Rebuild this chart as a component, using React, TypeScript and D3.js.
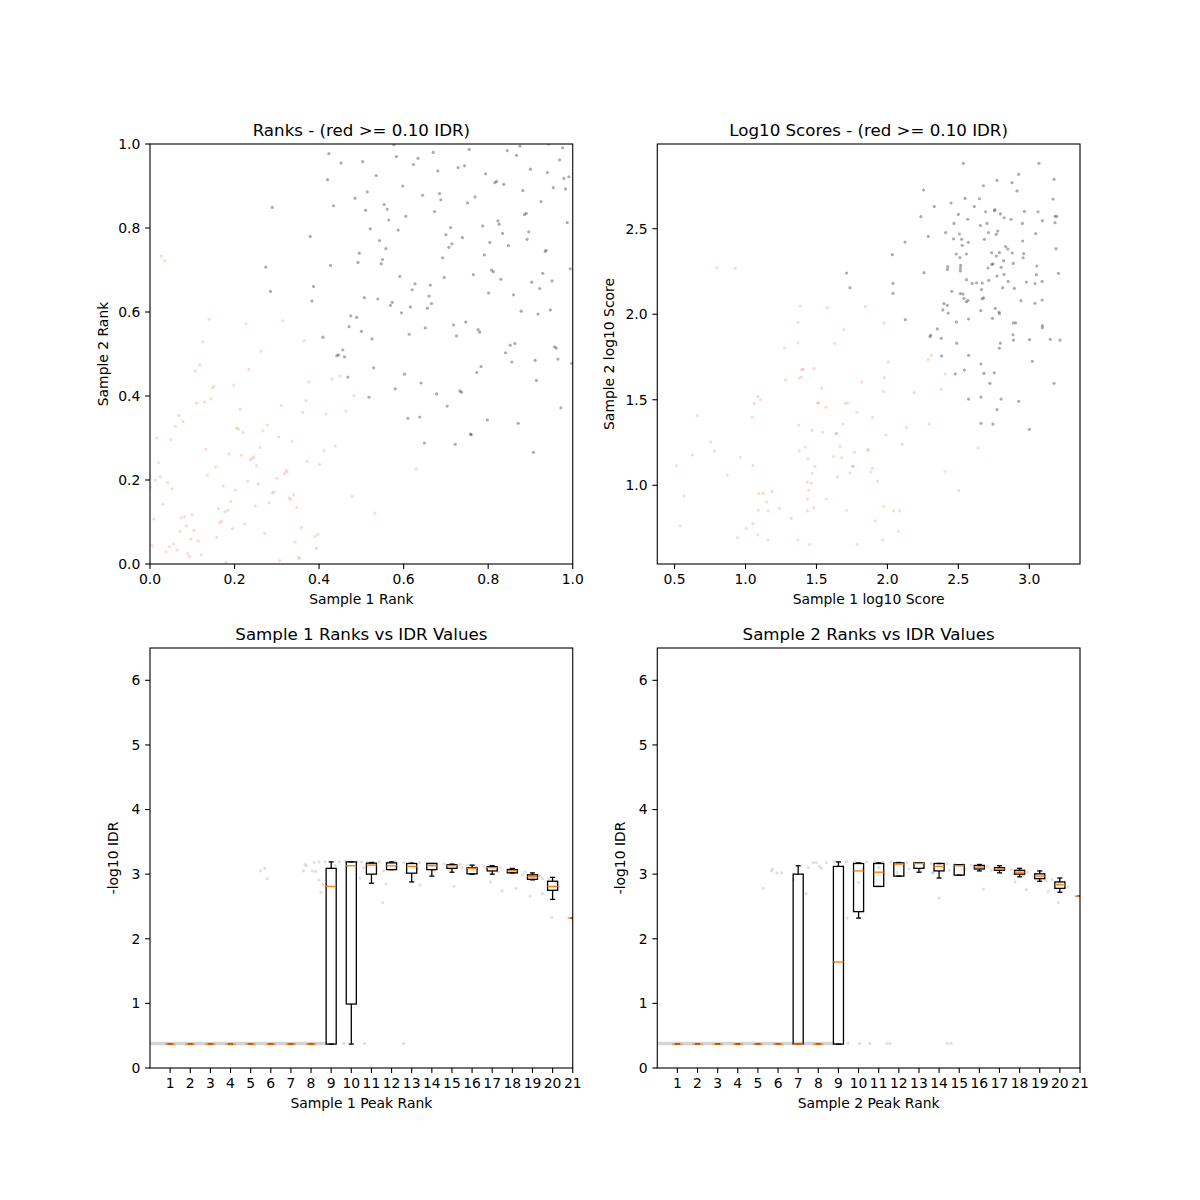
import React from 'react';
import * as d3 from 'd3';

type Pt = [number, number];
// box stats: [lower whisker, q1, median, q3, upper whisker]
type Box = [number, number, number, number, number];

const FONT = '"DejaVu Sans", sans-serif';
const PW = 422.73;
const PH = 420;
const COLS = [150, 657.27];
const ROWS = [144, 648];

// ---- panel 1: ranks ----
const rankGray: Pt[] = [
  [0.423, 0.977], [0.452, 0.955], [0.503, 0.958], [0.577, 0.998], [0.583, 0.97], [0.623, 0.951], [0.634, 0.966],
  [0.67, 0.98], [0.681, 0.936], [0.729, 0.944], [0.744, 0.948], [0.755, 0.987], [0.845, 0.984], [0.867, 0.973],
  [0.875, 0.995], [0.943, 1.0], [0.976, 0.991], [0.969, 0.962], [0.991, 0.922], [0.979, 0.918], [0.983, 0.893],
  [0.9, 0.94], [0.94, 0.932], [0.954, 0.896], [0.882, 0.889], [0.794, 0.929], [0.816, 0.908], [0.82, 0.911],
  [0.837, 0.904], [0.42, 0.915], [0.434, 0.853], [0.485, 0.871], [0.514, 0.886], [0.535, 0.925], [0.51, 0.842],
  [0.554, 0.856], [0.561, 0.845], [0.521, 0.798], [0.565, 0.819], [0.598, 0.9], [0.605, 0.828], [0.645, 0.878],
  [0.685, 0.882], [0.688, 0.867], [0.673, 0.839], [0.587, 0.795], [0.543, 0.77], [0.558, 0.751], [0.55, 0.725],
  [0.547, 0.715], [0.495, 0.74], [0.492, 0.718], [0.427, 0.711], [0.379, 0.78], [0.289, 0.849], [0.274, 0.707],
  [0.285, 0.649], [0.387, 0.661], [0.383, 0.626], [0.7, 0.784], [0.711, 0.801], [0.714, 0.762], [0.707, 0.754],
  [0.739, 0.777], [0.751, 0.86], [0.769, 0.874], [0.692, 0.729], [0.696, 0.682], [0.591, 0.685], [0.787, 0.805],
  [0.804, 0.766], [0.823, 0.817], [0.826, 0.809], [0.834, 0.787], [0.848, 0.758], [0.791, 0.736], [0.808, 0.7],
  [0.812, 0.696], [0.801, 0.645], [0.83, 0.678], [0.765, 0.689], [0.86, 0.641], [0.886, 0.832], [0.89, 0.835],
  [0.896, 0.791], [0.892, 0.773], [0.925, 0.863], [0.987, 0.813], [0.935, 0.744], [0.937, 0.747], [0.929, 0.692],
  [0.994, 0.703], [0.903, 0.671], [0.922, 0.656], [0.951, 0.674], [0.878, 0.602], [0.918, 0.595], [0.947, 0.605],
  [0.507, 0.634], [0.539, 0.631], [0.569, 0.616], [0.573, 0.623], [0.595, 0.598], [0.616, 0.612], [0.62, 0.653],
  [0.627, 0.667], [0.663, 0.664], [0.66, 0.638], [0.666, 0.62], [0.656, 0.609], [0.475, 0.591], [0.489, 0.587],
  [0.471, 0.565], [0.5, 0.554], [0.409, 0.54], [0.446, 0.498], [0.442, 0.496], [0.456, 0.51], [0.46, 0.493],
  [0.468, 0.445], [0.525, 0.536], [0.529, 0.467], [0.518, 0.397], [0.58, 0.417], [0.613, 0.547], [0.651, 0.562],
  [0.718, 0.569], [0.725, 0.543], [0.747, 0.576], [0.776, 0.558], [0.78, 0.552], [0.602, 0.452], [0.641, 0.431],
  [0.678, 0.405], [0.703, 0.376], [0.733, 0.412], [0.737, 0.409], [0.773, 0.456], [0.783, 0.47], [0.841, 0.503],
  [0.852, 0.521], [0.863, 0.525], [0.856, 0.481], [0.911, 0.485], [0.914, 0.437], [0.957, 0.517], [0.961, 0.514],
  [0.965, 0.488], [0.997, 0.478], [0.972, 0.372], [0.61, 0.347], [0.638, 0.35], [0.649, 0.288], [0.722, 0.285],
  [0.758, 0.309], [0.76, 0.308], [0.798, 0.343], [0.871, 0.335], [0.907, 0.266],
];

const rankRed: Pt[] = [
  [0.027, 0.733], [0.035, 0.722], [0.001, 0.183], [0.005, 0.044], [0.009, 0.107], [0.013, 0.2], [0.016, 0.3],
  [0.02, 0.241], [0.024, 0.208], [0.03, 0.142], [0.038, 0.029], [0.042, 0.194], [0.046, 0.041], [0.049, 0.296],
  [0.052, 0.179], [0.056, 0.048], [0.06, 0.328], [0.064, 0.033], [0.068, 0.354], [0.071, 0.077], [0.074, 0.11],
  [0.078, 0.339], [0.082, 0.113], [0.086, 0.091], [0.089, 0.025], [0.093, 0.018], [0.096, 0.059], [0.099, 0.117],
  [0.104, 0.08], [0.107, 0.459], [0.11, 0.383], [0.114, 0.055], [0.118, 0.474], [0.122, 0.022], [0.125, 0.529],
  [0.129, 0.386], [0.132, 0.273], [0.136, 0.211], [0.14, 0.583], [0.144, 0.393], [0.147, 0.419], [0.151, 0.423],
  [0.155, 0.231], [0.158, 0.063], [0.162, 0.132], [0.165, 0.098], [0.169, 0.102], [0.173, 0.186], [0.177, 0.124],
  [0.18, 0.004], [0.184, 0.128], [0.187, 0.262], [0.191, 0.149], [0.195, 0.084], [0.198, 0.426], [0.202, 0.176],
  [0.205, 0.324], [0.209, 0.321], [0.213, 0.368], [0.216, 0.259], [0.22, 0.313], [0.224, 0.095], [0.227, 0.572],
  [0.231, 0.197], [0.234, 0.463], [0.238, 0.248], [0.242, 0.252], [0.246, 0.255], [0.249, 0.138], [0.252, 0.234],
  [0.256, 0.19], [0.26, 0.277], [0.263, 0.507], [0.267, 0.317], [0.271, 0.073], [0.278, 0.331], [0.282, 0.146],
  [0.29, 0.169], [0.293, 0.172], [0.3, 0.204], [0.304, 0.303], [0.307, 0.008], [0.311, 0.378], [0.314, 0.579],
  [0.318, 0.215], [0.322, 0.223], [0.325, 0.219], [0.329, 0.157], [0.333, 0.154], [0.336, 0.292], [0.34, 0.165],
  [0.343, 0.052], [0.347, 0.135], [0.351, 0.016], [0.354, 0.013], [0.358, 0.087], [0.361, 0.361], [0.365, 0.532],
  [0.369, 0.389], [0.372, 0.244], [0.376, 0.433], [0.39, 0.066], [0.394, 0.037], [0.397, 0.07], [0.401, 0.237],
  [0.412, 0.27], [0.416, 0.357], [0.431, 0.441], [0.438, 0.281], [0.449, 0.448], [0.463, 0.364], [0.478, 0.161],
  [0.482, 0.401], [0.532, 0.121], [0.63, 0.227],
];

// ---- panel 2: log10 scores ----
const scoreGray: Pt[] = [
  [2.535, 2.882], [3.068, 2.882], [2.925, 2.818], [2.772, 2.782], [2.878, 2.769], [2.676, 2.751], [3.174, 2.788],
  [2.255, 2.726], [2.913, 2.721], [2.547, 2.677], [2.648, 2.675], [3.167, 2.673], [2.33, 2.629], [2.448, 2.65],
  [2.612, 2.629], [2.5, 2.584], [2.692, 2.599], [2.753, 2.605], [2.758, 2.611], [2.796, 2.586], [2.822, 2.564],
  [2.871, 2.555], [2.965, 2.601], [3.061, 2.599], [3.092, 2.547], [3.181, 2.572], [3.193, 2.572], [3.181, 2.535],
  [2.236, 2.57], [2.469, 2.531], [2.566, 2.555], [2.655, 2.518], [2.702, 2.531], [2.951, 2.531], [2.288, 2.455],
  [2.41, 2.477], [2.507, 2.469], [2.711, 2.477], [2.777, 2.486], [2.767, 2.467], [3.045, 2.471], [2.124, 2.422],
  [2.466, 2.44], [2.523, 2.438], [2.57, 2.42], [2.683, 2.438], [2.953, 2.428], [2.527, 2.403], [2.833, 2.395],
  [2.849, 2.381], [3.188, 2.383], [2.485, 2.352], [2.557, 2.352], [2.735, 2.36], [2.789, 2.36], [2.88, 2.358],
  [2.768, 2.34], [2.96, 2.354], [2.034, 2.348], [2.511, 2.331], [2.819, 2.313], [2.956, 2.33], [2.887, 2.297],
  [2.425, 2.278], [2.516, 2.286], [2.744, 2.295], [2.735, 2.29], [2.801, 2.274], [3.052, 2.282], [2.423, 2.262],
  [2.514, 2.27], [2.709, 2.27], [2.514, 2.253], [1.712, 2.241], [2.258, 2.243], [2.822, 2.233], [2.772, 2.223],
  [3.05, 2.231], [3.205, 2.239], [2.557, 2.202], [2.597, 2.18], [2.628, 2.184], [2.668, 2.182], [2.714, 2.198],
  [2.85, 2.192], [2.979, 2.188], [3.04, 2.179], [3.09, 2.192], [2.039, 2.18], [1.736, 2.155], [2.663, 2.144],
  [2.812, 2.155], [2.894, 2.151], [2.453, 2.134], [2.039, 2.122], [2.514, 2.12], [2.532, 2.118], [2.539, 2.093],
  [2.668, 2.091], [2.678, 2.095], [2.568, 2.081], [2.557, 2.073], [2.941, 2.079], [3.04, 2.064], [3.09, 2.083],
  [2.398, 2.062], [2.422, 2.052], [2.391, 2.025], [2.428, 2.007], [2.658, 2.021], [2.76, 2.034], [2.786, 2.013],
  [2.79, 2.003], [2.74, 1.976], [2.126, 1.968], [2.572, 1.972], [2.486, 1.955], [2.887, 1.949], [2.903, 1.949],
  [3.092, 1.933], [3.092, 1.921], [2.352, 1.914], [2.305, 1.877], [2.3, 1.869], [2.379, 1.859], [2.885, 1.88],
  [2.889, 1.849], [3.002, 1.851], [3.148, 1.853], [3.216, 1.849], [2.488, 1.831], [2.796, 1.831], [2.789, 1.801],
  [2.382, 1.756], [2.572, 1.76], [3.021, 1.725], [2.659, 1.709], [2.478, 1.651], [2.542, 1.674], [2.68, 1.654],
  [2.753, 1.658], [2.722, 1.596], [3.174, 1.596], [2.572, 1.504], [2.659, 1.516], [2.801, 1.504], [2.925, 1.491],
  [2.772, 1.442], [2.659, 1.362], [2.744, 1.358], [3.0, 1.327],
];

const scoreRed: Pt[] = [
  [0.514, 1.115], [0.54, 0.762], [0.566, 0.937], [0.625, 1.177], [0.66, 1.407], [0.756, 1.253], [0.78, 1.201],
  [0.798, 2.272], [0.928, 2.268], [0.871, 1.06], [0.944, 0.694], [0.963, 1.164], [1.005, 0.749], [1.047, 1.397],
  [1.052, 1.115], [1.052, 0.776], [1.061, 1.479], [1.087, 1.518], [1.106, 1.501], [1.09, 0.854], [1.087, 0.71],
  [1.094, 0.951], [1.125, 0.953], [1.148, 0.902], [1.16, 0.85], [1.158, 0.68], [1.186, 0.963], [1.238, 0.865],
  [1.275, 1.804], [1.282, 1.617], [1.322, 0.807], [1.369, 1.951], [1.369, 1.832], [1.369, 0.68], [1.378, 1.627],
  [1.376, 1.351], [1.378, 1.201], [1.386, 2.048], [1.395, 1.633], [1.397, 1.678], [1.407, 1.678], [1.421, 1.224],
  [1.435, 0.85], [1.435, 1.018], [1.44, 1.156], [1.437, 0.92], [1.444, 0.971], [1.452, 0.655], [1.464, 1.012],
  [1.468, 1.321], [1.471, 1.07], [1.48, 0.869], [1.483, 1.682], [1.489, 1.111], [1.508, 1.481], [1.515, 1.481],
  [1.536, 1.567], [1.543, 1.31], [1.567, 1.456], [1.569, 0.92], [1.576, 2.038], [1.621, 1.169], [1.628, 1.83],
  [1.637, 1.302], [1.642, 1.304], [1.649, 1.049], [1.668, 1.228], [1.677, 1.162], [1.686, 1.358], [1.691, 1.91],
  [1.703, 1.479], [1.72, 1.481], [1.712, 0.854], [1.736, 1.072], [1.752, 1.111], [1.761, 1.111], [1.768, 1.193],
  [1.787, 0.655], [1.785, 1.427], [1.816, 1.604], [1.844, 2.044], [1.863, 1.21], [1.863, 1.202], [1.884, 1.078],
  [1.894, 1.099], [1.894, 1.396], [1.915, 0.792], [1.929, 1.023], [1.966, 0.68], [1.973, 0.876], [1.973, 1.547],
  [1.976, 1.949], [1.978, 1.629], [1.99, 1.294], [2.006, 1.721], [2.044, 0.85], [2.077, 0.731], [2.086, 0.85],
  [2.105, 1.24], [2.135, 1.337], [2.189, 1.542], [2.288, 1.736], [2.309, 1.76], [2.293, 1.358], [2.38, 1.561],
  [2.409, 1.651], [2.406, 1.08], [2.502, 0.969], [2.638, 1.218],
];

// ---- panels 3 & 4: -log10 IDR by peak rank bin ----
const rankBins = d3.range(1, 22);

const s1Boxes: Box[] = [
  [0.37, 0.37, 0.37, 0.37, 0.37], [0.37, 0.37, 0.37, 0.37, 0.37], [0.37, 0.37, 0.37, 0.37, 0.37],
  [0.37, 0.37, 0.37, 0.37, 0.37], [0.37, 0.37, 0.37, 0.37, 0.37], [0.37, 0.37, 0.37, 0.37, 0.37],
  [0.37, 0.37, 0.37, 0.37, 0.37], [0.37, 0.37, 0.37, 0.37, 0.37],
  [0.37, 0.37, 2.81, 3.09, 3.19], [0.37, 0.99, 3.13, 3.19, 3.19], [2.86, 3.0, 3.14, 3.17, 3.18],
  [3.07, 3.07, 3.13, 3.175, 3.19], [2.88, 3.015, 3.12, 3.165, 3.17], [2.97, 3.07, 3.13, 3.165, 3.165],
  [3.03, 3.09, 3.13, 3.145, 3.155], [3.0, 3.005, 3.09, 3.1, 3.14], [3.0, 3.05, 3.1, 3.115, 3.13],
  [3.02, 3.02, 3.05, 3.07, 3.09], [2.91, 2.92, 2.96, 2.99, 3.02], [2.61, 2.75, 2.81, 2.89, 2.95],
  [2.32, 2.32, 2.32, 2.32, 2.32],
];

const s2Boxes: Box[] = [
  [0.37, 0.37, 0.37, 0.37, 0.37], [0.37, 0.37, 0.37, 0.37, 0.37], [0.37, 0.37, 0.37, 0.37, 0.37],
  [0.37, 0.37, 0.37, 0.37, 0.37], [0.37, 0.37, 0.37, 0.37, 0.37], [0.37, 0.37, 0.37, 0.37, 0.37],
  [0.37, 0.37, 0.37, 3.0, 3.13], [0.37, 0.37, 0.37, 0.37, 0.37], [0.37, 0.37, 1.64, 3.12, 3.19],
  [2.32, 2.42, 3.05, 3.165, 3.175], [2.81, 2.81, 3.03, 3.165, 3.175], [2.97, 2.97, 3.155, 3.175, 3.18],
  [3.03, 3.09, 3.165, 3.175, 3.175], [2.94, 3.05, 3.12, 3.165, 3.165], [2.985, 2.985, 3.13, 3.145, 3.145],
  [3.05, 3.08, 3.11, 3.135, 3.15], [3.02, 3.06, 3.08, 3.1, 3.13], [2.96, 3.0, 3.03, 3.06, 3.09],
  [2.89, 2.93, 2.97, 3.005, 3.05], [2.72, 2.78, 2.835, 2.88, 2.94], [2.66, 2.66, 2.66, 2.66, 2.66],
];

// dense run of low-rank peaks sitting at the same IDR: [from, to, value]
const s1LowRun: Pt[] = [[0, 8.7]];
const s2LowRun: Pt[] = [[0, 8.75]];
const lowRunIdr = 0.38;

const s1Idr: Pt[] = [
  [5.5, 3.05], [5.7, 3.09], [5.82, 2.93], [7.62, 3.05], [7.7, 3.15], [7.78, 3.13], [8.07, 3.05], [8.15, 3.18],
  [8.23, 3.04], [8.4, 2.91], [8.49, 2.72], [8.6, 2.84], [8.4, 3.19], [8.7, 3.19], [9.4, 3.19], [9.7, 3.2],
  [10.3, 3.19], [10.5, 3.19], [10.8, 3.19], [11.1, 3.19], [11.4, 3.19], [11.8, 3.18], [12.2, 3.19], [12.6, 3.18],
  [13.0, 3.18], [13.4, 3.18], [13.8, 3.17], [14.2, 3.17], [14.6, 3.16], [15.0, 3.16], [15.4, 3.15], [15.8, 3.14],
  [16.2, 3.13], [16.6, 3.12], [17.0, 3.11], [17.4, 3.1], [17.8, 3.08], [18.2, 3.06], [18.6, 3.03], [19.0, 3.0],
  [19.4, 2.97], [19.8, 2.92], [20.2, 2.87], [9.2, 3.14], [10.6, 3.1], [11.6, 3.05], [12.2, 3.1], [12.7, 3.02],
  [13.3, 3.08], [14.1, 3.05], [14.9, 3.08], [15.5, 3.1], [16.1, 3.06], [16.7, 3.08], [17.3, 3.04], [18.0, 3.02],
  [18.5, 2.99], [19.0, 2.96], [19.5, 2.93], [20.3, 2.8], [9.62, 0.38], [10.66, 0.38], [12.6, 0.38], [10.43, 2.94],
  [11.56, 2.56], [11.72, 2.85], [13.41, 2.83], [15.1, 2.81], [16.92, 2.88], [17.49, 2.74], [18.18, 2.78],
  [18.88, 2.66], [19.49, 2.7], [19.96, 2.33], [19.29, 2.98],
];

const s2Idr: Pt[] = [
  [5.27, 2.78], [5.68, 3.05], [5.72, 3.08], [5.95, 3.02], [6.18, 3.02], [6.76, 2.92], [7.39, 2.7], [7.5, 3.1],
  [7.75, 3.18], [7.91, 3.18], [8.05, 3.12], [8.16, 3.09], [8.4, 3.18], [9.43, 2.32], [9.99, 2.87], [8.8, 3.19],
  [9.4, 3.19], [9.8, 3.19], [10.4, 3.19], [10.8, 3.19], [11.2, 3.19], [11.6, 3.19], [12.0, 3.18], [12.4, 3.18],
  [12.8, 3.18], [13.2, 3.17], [13.6, 3.17], [14.0, 3.16], [14.4, 3.16], [14.8, 3.15], [15.2, 3.15], [15.6, 3.14],
  [16.0, 3.13], [16.4, 3.12], [16.8, 3.1], [17.2, 3.09], [17.6, 3.07], [18.0, 3.05], [18.4, 3.03], [18.8, 3.0],
  [19.2, 2.97], [19.6, 2.92], [20.0, 2.87], [20.4, 2.8], [10.2, 3.08], [11.0, 3.1], [11.9, 3.02], [12.5, 3.08],
  [13.1, 3.05], [13.7, 3.02], [14.5, 3.06], [15.3, 3.08], [16.1, 3.07], [16.6, 3.06], [17.1, 3.02], [17.7, 3.0],
  [18.2, 2.98], [18.7, 2.96], [19.3, 2.9], [19.9, 2.85], [9.47, 0.38], [10.06, 0.38], [10.56, 0.38], [11.4, 0.38],
  [11.56, 0.38], [14.4, 0.38], [14.6, 0.38], [14.0, 2.63], [16.2, 2.77], [18.35, 2.76], [19.92, 2.56],
  [19.42, 2.73], [17.77, 2.88], [13.67, 3.02],
];

const rankTicks = [0, 0.2, 0.4, 0.6, 0.8, 1.0];
const scoreXTicks = [0.5, 1.0, 1.5, 2.0, 2.5, 3.0];
const scoreYTicks = [1.0, 1.5, 2.0, 2.5];
const idrTicks = [0, 1, 2, 3, 4, 5, 6];

type Scale = d3.ScaleLinear<number, number>;

function Panel(props: {
  id: string; x0: number; y0: number; xs: Scale; ys: Scale;
  xTicks: number[]; yTicks: number[]; xFmt: (v: number) => string; yFmt: (v: number) => string;
  title: string; xLabel: string; yLabel: string; yLabelOff: number; children?: React.ReactNode;
}) {
  const { id, x0, y0, xs, ys, xTicks, yTicks, xFmt, yFmt, title, xLabel, yLabel, yLabelOff } = props;
  return (
    <g transform={`translate(${x0},${y0})`}>
      <defs>
        <clipPath id={id}><rect width={PW} height={PH} /></clipPath>
      </defs>
      <g clipPath={`url(#${id})`}>{props.children}</g>
      <rect width={PW} height={PH} fill="none" stroke="#000" strokeWidth={1.1} />
      {xTicks.map((t) => (
        <g key={'x' + t} transform={`translate(${xs(t)},${PH})`}>
          <line y2={4.9} stroke="#000" strokeWidth={1.1} />
          <text y={20} textAnchor="middle" fontSize={13.9}>{xFmt(t)}</text>
        </g>
      ))}
      {yTicks.map((t) => (
        <g key={'y' + t} transform={`translate(0,${ys(t)})`}>
          <line x2={-4.9} stroke="#000" strokeWidth={1.1} />
          <text x={-9.7} dy="0.35em" textAnchor="end" fontSize={13.9}>{yFmt(t)}</text>
        </g>
      ))}
      <text x={PW / 2} y={-8.3} textAnchor="middle" fontSize={16.67}>{title}</text>
      <text x={PW / 2} y={PH + 39.5} textAnchor="middle" fontSize={13.9}>{xLabel}</text>
      <text transform={`translate(${yLabelOff},${PH / 2}) rotate(-90)`} textAnchor="middle" fontSize={13.9}>{yLabel}</text>
    </g>
  );
}

function Dots({ pts, xs, ys, fill, opacity }: { pts: Pt[]; xs: Scale; ys: Scale; fill: string; opacity: number }) {
  return (
    <g fill={fill} fillOpacity={opacity}>
      {pts.map((d, i) => <circle key={i} cx={xs(d[0])} cy={ys(d[1])} r={1.6} />)}
    </g>
  );
}

function Boxes({ boxes, xs, ys }: { boxes: Box[]; xs: Scale; ys: Scale }) {
  const hw = (xs(0.25) - xs(0));
  return (
    <g>
      {boxes.map((b, i) => {
        const cx = xs(rankBins[i]);
        const [lo, q1, med, q3, hi] = b;
        return (
          <g key={i} fill="none" strokeWidth={1.3}>
            <line x1={cx} x2={cx} y1={ys(q1)} y2={ys(lo)} stroke="#000" />
            <line x1={cx} x2={cx} y1={ys(q3)} y2={ys(hi)} stroke="#000" />
            <line x1={cx - hw / 2} x2={cx + hw / 2} y1={ys(lo)} y2={ys(lo)} stroke="#000" />
            <line x1={cx - hw / 2} x2={cx + hw / 2} y1={ys(hi)} y2={ys(hi)} stroke="#000" />
            <rect x={cx - hw} y={ys(q3)} width={2 * hw} height={Math.max(0, ys(q1) - ys(q3))} stroke="#000" />
            <line x1={cx - hw} x2={cx + hw} y1={ys(med)} y2={ys(med)} stroke="#ff7f0e" strokeWidth={1.4} />
          </g>
        );
      })}
    </g>
  );
}

function IdrPanel({ id, x0, y0, sample, boxes, pts, lowRun }: {
  id: string; x0: number; y0: number; sample: number; boxes: Box[]; pts: Pt[]; lowRun: Pt[];
}) {
  const xs = d3.scaleLinear().domain([0, 21]).range([0, PW]);
  const ys = d3.scaleLinear().domain([0, 6.5]).range([PH, 0]);
  return (
    <Panel id={id} x0={x0} y0={y0} xs={xs} ys={ys} xTicks={rankBins} yTicks={idrTicks}
      xFmt={(v) => String(v)} yFmt={(v) => String(v)}
      title={`Sample ${sample} Ranks vs IDR Values`} xLabel={`Sample ${sample} Peak Rank`}
      yLabel="-log10 IDR" yLabelOff={-32}>
      {lowRun.map((r, i) => (
        <line key={i} x1={xs(r[0])} x2={xs(r[1])} y1={ys(lowRunIdr)} y2={ys(lowRunIdr)}
          stroke="#000" strokeOpacity={0.17} strokeWidth={3.4} strokeLinecap="round" />
      ))}
      <Dots pts={pts} xs={xs} ys={ys} fill="#000" opacity={0.12} />
      <Boxes boxes={boxes} xs={xs} ys={ys} />
    </Panel>
  );
}

export default function App() {
  const rx = d3.scaleLinear().domain([0, 1]).range([0, PW]);
  const ry = d3.scaleLinear().domain([0, 1]).range([PH, 0]);
  const sx = d3.scaleLinear().domain([0.378, 3.357]).range([0, PW]);
  const sy = d3.scaleLinear().domain([0.54, 2.995]).range([PH, 0]);
  const f1 = d3.format('.1f');
  return (
    <svg width={1200} height={1200} viewBox="0 0 1200 1200"
      style={{ position: 'absolute', left: 0, top: 0, background: '#fff', fontFamily: FONT }}>
      <rect width={1200} height={1200} fill="#fff" />
      <Panel id="c1" x0={COLS[0]} y0={ROWS[0]} xs={rx} ys={ry} xTicks={rankTicks} yTicks={rankTicks}
        xFmt={f1} yFmt={f1} title="Ranks - (red >= 0.10 IDR)" xLabel="Sample 1 Rank"
        yLabel="Sample 2 Rank" yLabelOff={-42.5}>
        <Dots pts={rankRed} xs={rx} ys={ry} fill="#e8582f" opacity={0.22} />
        <Dots pts={rankGray} xs={rx} ys={ry} fill="#333" opacity={0.4} />
      </Panel>
      <Panel id="c2" x0={COLS[1]} y0={ROWS[0]} xs={sx} ys={sy} xTicks={scoreXTicks} yTicks={scoreYTicks}
        xFmt={f1} yFmt={f1} title="Log10 Scores - (red >= 0.10 IDR)" xLabel="Sample 1 log10 Score"
        yLabel="Sample 2 log10 Score" yLabelOff={-43.5}>
        <Dots pts={scoreRed} xs={sx} ys={sy} fill="#e8582f" opacity={0.22} />
        <Dots pts={scoreGray} xs={sx} ys={sy} fill="#333" opacity={0.4} />
      </Panel>
      <IdrPanel id="c3" x0={COLS[0]} y0={ROWS[1]} sample={1} boxes={s1Boxes} pts={s1Idr} lowRun={s1LowRun} />
      <IdrPanel id="c4" x0={COLS[1]} y0={ROWS[1]} sample={2} boxes={s2Boxes} pts={s2Idr} lowRun={s2LowRun} />
    </svg>
  );
}
